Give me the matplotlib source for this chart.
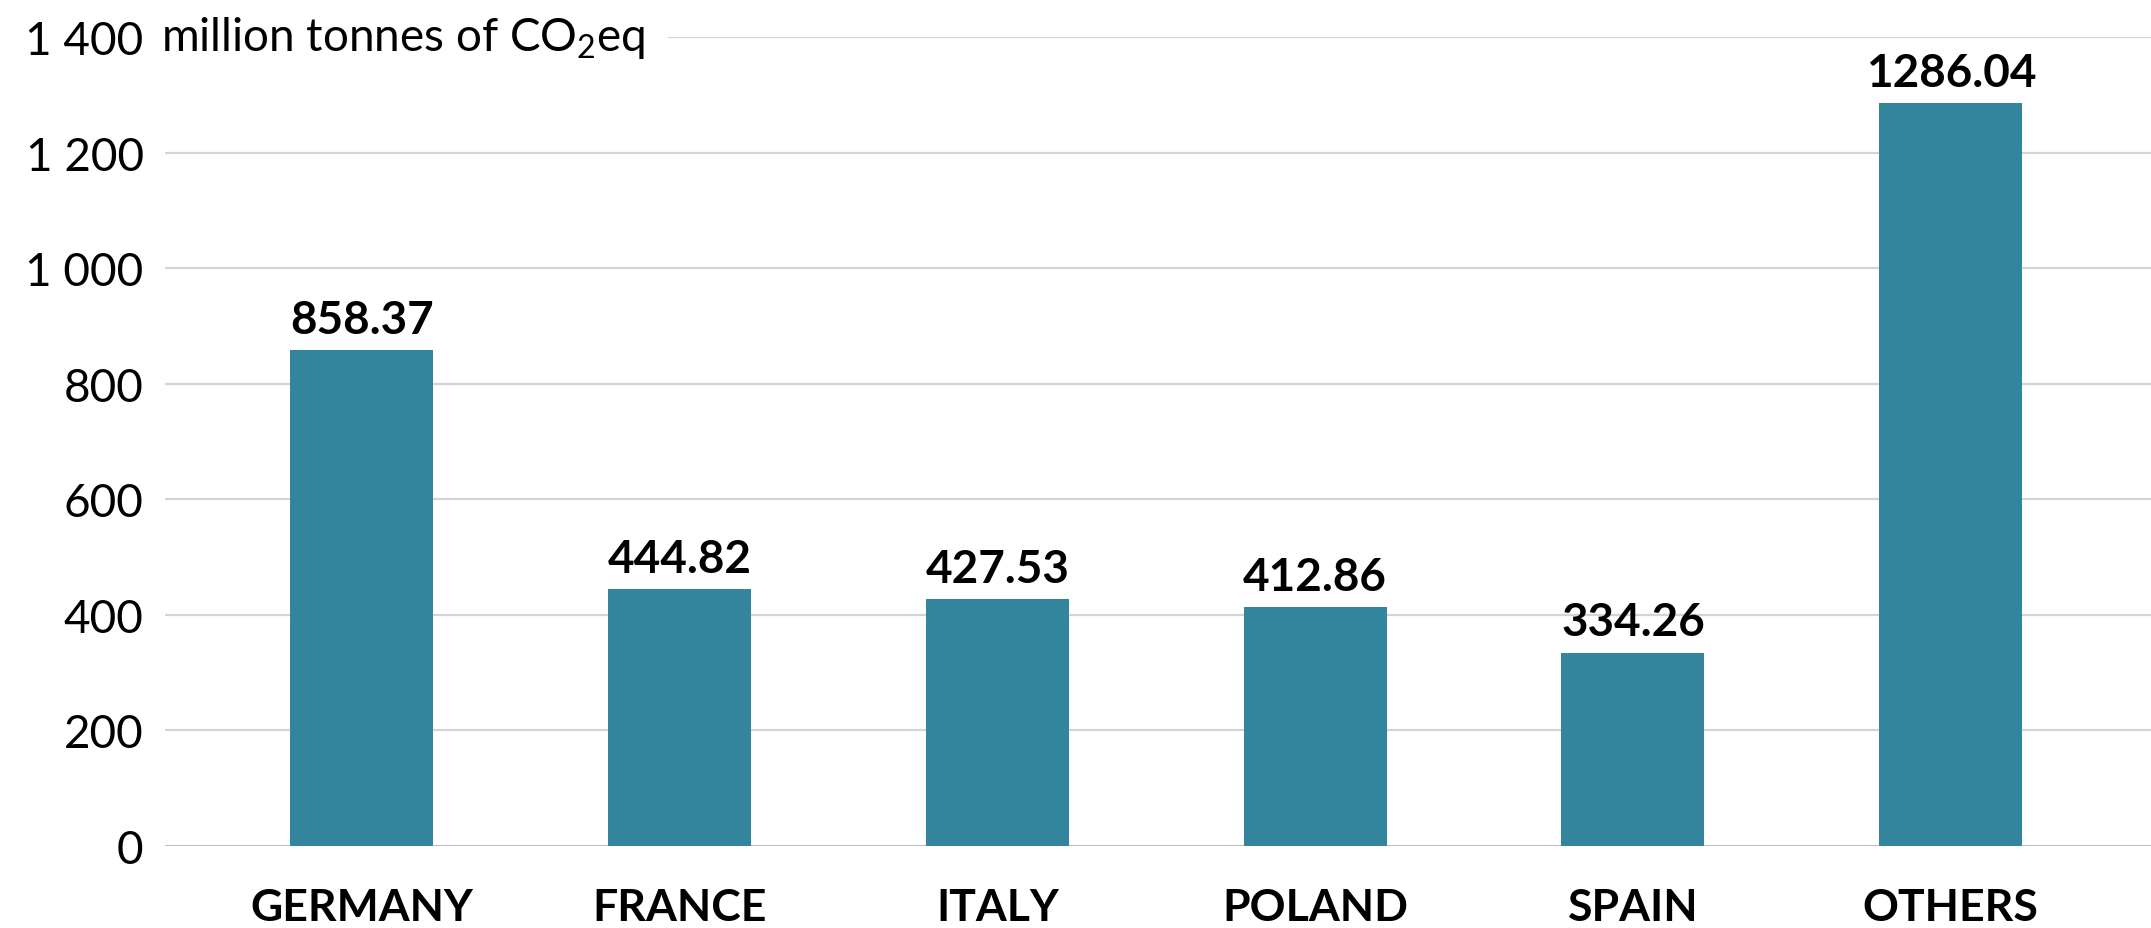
import matplotlib.pyplot as plt
import numpy as np

plt.rcParams['font.family'] = ['Lato', 'DejaVu Sans']
plt.rcParams['mathtext.fontset'] = 'custom'
plt.rcParams['mathtext.rm'] = 'Lato'
plt.rcParams['mathtext.it'] = 'Lato'

# emissions by country, million tonnes CO2eq
countries = ['GERMANY', 'FRANCE', 'ITALY', 'POLAND', 'SPAIN', 'OTHERS']
emissions = [858.37, 444.82, 427.53, 412.86, 334.26, 1286.04]
yticks = [0, 200, 400, 600, 800, 1000, 1200, 1400]
ytick_labels = ['0', '200', '400', '600', '800', '1 000', '1 200', '1 400']

bar_color = '#32859c'
grid_color = '#d4d4d4'

fig = plt.figure(figsize=(21.51, 9.29), dpi=100)
ax = fig.add_axes([0.0765, 0.0886, 0.9235, 0.870])

x = np.arange(len(countries))
ax.bar(x, emissions, width=0.45, color=bar_color, zorder=3)

for xi, v in zip(x, emissions):
    ax.text(xi, v + 16, f'{v:.2f}', ha='center', va='bottom',
            fontsize=33, fontweight='bold', color='black', zorder=4)

# grid lines (top one starts after the unit label)
for t in yticks[1:-1]:
    ax.axhline(t, color=grid_color, lw=1.6, zorder=1)
ax.axhline(yticks[-1], xmin=0.254, color=grid_color, lw=1.6, zorder=1)
ax.axhline(0, color='#bdbdbd', lw=2.2, zorder=2)

ax.set_xlim(-0.62, 5.63)
ax.set_ylim(0, 1400)
ax.set_yticks(yticks)
ax.set_yticklabels(ytick_labels, fontsize=33)
ax.set_xticks(x)
ax.set_xticklabels(countries, fontsize=32, fontweight='bold')
ax.tick_params(axis='y', length=0, pad=15)
ax.tick_params(axis='x', length=0, pad=30)
for s in ax.spines.values():
    s.set_visible(False)

ax.text(-0.002, 1400, r'million tonnes of CO$_2$eq', transform=ax.get_yaxis_transform(),
        ha='left', va='center', fontsize=33, zorder=5)

fig.savefig('out.png', dpi=100, facecolor='white')
